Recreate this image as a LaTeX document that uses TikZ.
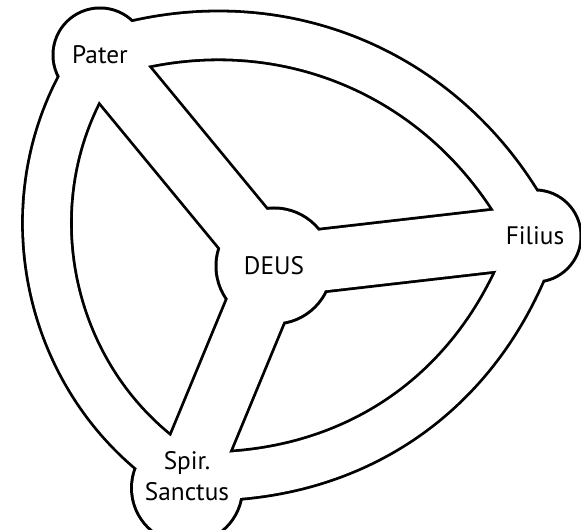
\documentclass[tikz,border=0pt]{standalone}
\usepackage{fontspec}
\setmainfont{PT Sans}
\usetikzlibrary{positioning}
\pgfdeclarelayer{ink}
\pgfdeclarelayer{paper}
\pgfsetlayers{ink,paper,main}
\tikzset{
   word/.style={font=\fontsize{18}{22}\selectfont, align=center, inner sep=0pt},
   arcband/.style={line width=1.15cm},
   spoke/.style={line width=1.5cm},
   rim/.style={black},
   blank/.style={white}
}

\begin{document}
\begin{tikzpicture}[x=0.025cm, y=0.025cm]
   \useasboundingbox (0,0) rectangle (581,530);
   % Names
   \node[word] (pater)  at (100,475) {Pater};
   \node[word] (filius) at (535,294) {Filius};
   \node[word] (deus)   at (274,264) {DEUS};
   \node[word] (spir)   at (187,54)  {Spir.\\Sanctus};
   % Outline: everything a little wider, in black
   \begin{pgfonlayer}{ink}
      \draw[rim, arcband, line width=1.29cm] (pater.center) to[bend left=41] (filius.center)
         to[bend left=37] (spir.center) to[bend left=47] (pater.center);
      \draw[rim, spoke, line width=1.64cm] (deus.center) -- (pater.center)
         (deus.center) -- (filius.center) (deus.center) -- (spir.center);
      \fill[rim] (pater.center) circle (48.5) (filius.center) circle (47.5)
         (deus.center) circle (59.5) ([yshift=-0.3cm]spir.center) circle (57);
   \end{pgfonlayer}
   % Inside: the same shapes, in white
   \begin{pgfonlayer}{paper}
      \draw[blank, arcband] (pater.center) to[bend left=41] (filius.center)
         to[bend left=37] (spir.center) to[bend left=47] (pater.center);
      \draw[blank, spoke] (deus.center) -- (pater.center)
         (deus.center) -- (filius.center) (deus.center) -- (spir.center);
      \fill[blank] (pater.center) circle (45.5) (filius.center) circle (44.5)
         (deus.center) circle (56.5) ([yshift=-0.3cm]spir.center) circle (54);
   \end{pgfonlayer}
\end{tikzpicture}
\end{document}
